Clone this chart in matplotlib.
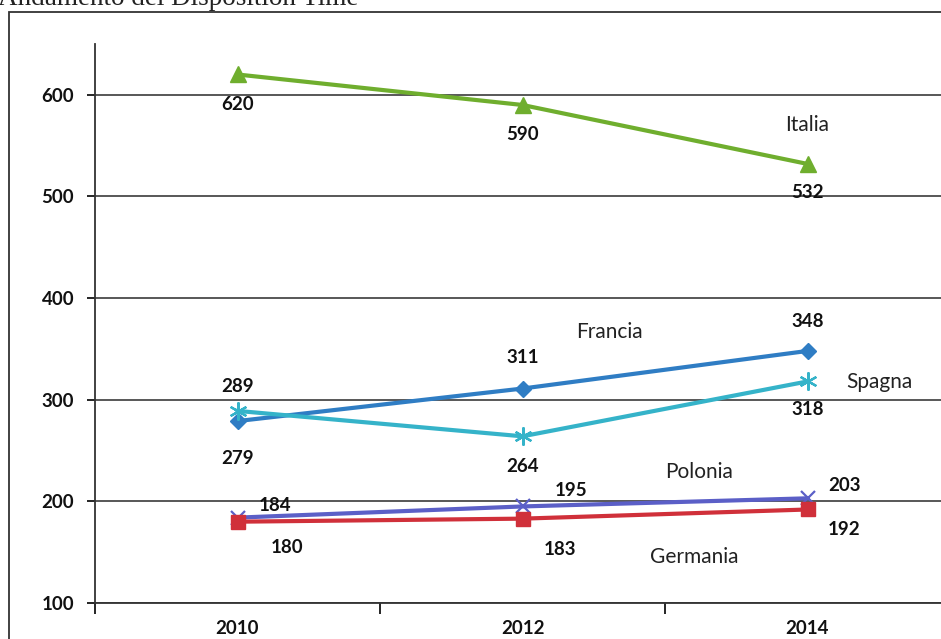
import matplotlib
matplotlib.use("Agg")
import matplotlib.pyplot as plt
from matplotlib.patches import Rectangle

years = ["2010", "2012", "2014"]
italia = [620, 590, 532]
francia = [279, 311, 348]
spagna = [289, 264, 318]
polonia = [184, 195, 203]
germania = [180, 183, 192]
y_ticks = [100, 200, 300, 400, 500, 600]
title = "Andamento del Disposition Time"

plt.rcParams['font.family'] = ['Lato', 'DejaVu Sans']

fig = plt.figure(figsize=(9.41, 6.39), dpi=100)
W, H = 941, 639
ax = fig.add_axes([95 / W, 36 / H, (950 - 95) / W, (603 - 44) / H])

x = list(range(len(years)))

series = [
    ("Italia", italia, "#6FAE2E", "^", 11, dict()),
    ("Francia", francia, "#2F7DC4", "D", 8, dict()),
    ("Spagna", spagna, "#35B3C9", (6, 2, 0), 13, dict(mew=1.6)),
    ("Polonia", polonia, "#5B5FC7", "x", 10, dict(mew=1.6)),
    ("Germania", germania, "#D0303A", "s", 10, dict()),
]

# data label offsets (pixels) per series per point
label_offsets = {
    "Italia": [(0, -30), (0, -30), (0, -29)],
    "Francia": [(0, -37), (0, 31), (0, 29)],
    "Spagna": [(0, 24), (0, -30), (0, -28)],
    "Polonia": [(38, 12), (49, 16), (37, 13)],
    "Germania": [(50, -26), (37, -31), (37, -20)],
}
name_offsets = {
    "Italia": (0, 39),
    "Francia": (-198, 19),
    "Spagna": (72, -1),
    "Polonia": (-108, 26),
    "Germania": (-113, -48),
}

for name, vals, col, mk, ms, kw in series:
    ax.plot(x, vals, color=col, lw=3.0, marker=mk, ms=ms, mfc=col, mec=col,
            zorder=3, **kw)
    for xi, v, off in zip(x, vals, label_offsets[name]):
        ax.annotate(str(v), (xi, v), xytext=off, textcoords="offset pixels",
                    ha="center", va="center", fontsize=13.5, fontweight="bold",
                    color="#111111", zorder=4)
    ax.annotate(name, (x[-1], vals[-1]), xytext=name_offsets[name],
                textcoords="offset pixels", ha="center", va="center",
                fontsize=15, color="#222222", zorder=4)

ax.set_xlim(-0.5, 2.5)
ax.set_ylim(100, 650)
ax.set_yticks(y_ticks)
ax.set_yticklabels([str(t) for t in y_ticks], fontsize=13.5, fontweight="bold",
                   color="#111111")
ax.yaxis.grid(True, color="#4a4a4a", lw=1.3, zorder=1)
ax.set_axisbelow(True)

ax.set_xticks([-0.5, 0.5, 1.5, 2.5])
ax.set_xticklabels([])
ax.set_xticks(x, minor=True)
ax.set_xticklabels(years, minor=True, fontsize=13.5, fontweight="bold",
                   color="#111111")
ax.tick_params(axis="x", which="minor", length=0, pad=12)
ax.tick_params(axis="x", which="major", length=8, width=1.2, direction="out")
ax.tick_params(axis="y", length=6, width=1.2, pad=9, direction="out")

for s in ["top", "right"]:
    ax.spines[s].set_visible(False)
ax.spines["left"].set_color("#333333")
ax.spines["bottom"].set_color("#333333")
ax.spines["left"].set_linewidth(1.3)
ax.spines["bottom"].set_linewidth(1.3)

fig.patches.append(Rectangle((9 / W, -0.1), 1.2, (H - 12) / H + 0.1,
                             transform=fig.transFigure, fill=False,
                             edgecolor="#333333", lw=1.3))
fig.text(-2 / W, 1 - 5 / H, title, family="Liberation Serif", fontsize=19.5,
         va="baseline", ha="left", color="#222222")

fig.savefig("out.png", dpi=100)
